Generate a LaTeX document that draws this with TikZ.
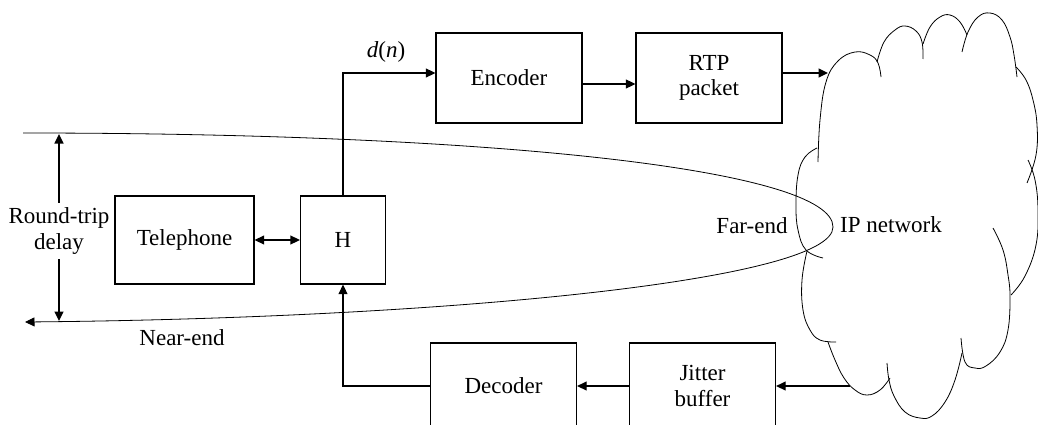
\documentclass[tikz,border=0pt]{standalone}
\usepackage{fontspec}
\setmainfont{Liberation Serif}
\usetikzlibrary{arrows.meta}
\begin{document}
\begin{tikzpicture}[x=1pt,y=-1pt,
  font=\fontsize{23}{25.5}\selectfont,
  box/.style={draw, line width=1.3pt, minimum width=146pt, minimum height=88pt, align=center, inner sep=0pt},
  conn/.style={line width=1.3pt},
  tipa/.tip={Triangle[length=9.5pt,width=9pt]},
  arr/.style={conn,-tipa},
  thinline/.style={line width=0.8pt},
  cloudarc/.style={line width=0.8pt}]
\useasboundingbox (0,0) rectangle (1038,425);

% boxes
\node[box, minimum width=139pt] (tel) at (184.5,240) {Telephone};
\node[box, minimum width=85pt] (H) at (343,240) {H};
\node[box, minimum height=90pt] (enc) at (509,78) {Encoder};
\node[box, minimum height=90pt] (rtp) at (709,78) {RTP\\packet};
\node[box, minimum height=86pt] (dec) at (503.5,386) {Decoder};
\node[box, minimum height=86pt] (jit) at (702.5,386) {Jitter\\buffer};

% labels
\node (dn) at (386,52) {\itshape d\/\upshape(\itshape n\/\upshape)};
\node (far) at (752,226) {Far-end};
\node (ip) at (891,225) {IP network};
\node (near) at (182,338) {Near-end};
\node[align=center, inner sep=5pt] (rtd) at (59,231) {Round-trip\\delay};

% coordinates
\coordinate (rtdtop) at (59,134);
\coordinate (rtdbot) at (59,321);
\coordinate (cin) at (828,73);
\coordinate (cout) at (850,386);
\coordinate (nearstart) at (23,133);
\coordinate (tip) at (833,227);
\coordinate (nearend) at (25,322);

% connectors
\draw[arr] (H.north) |- ([yshift=5pt]enc.west);
\draw[arr] ([yshift=-6pt]enc.east) -- ([yshift=-6pt]rtp.west);
\draw[arr] ([yshift=5pt]rtp.east) -- (cin);
\draw[arr] (cout) -- (jit.east);
\draw[arr] (jit.west) -- (dec.east);
\draw[arr] (dec.west) -| (H.south);
\draw[conn, tipa-tipa] (tel.east) -- (H.west);
\draw[arr] (rtd.north) -- (rtdtop);
\draw[arr] (rtd.south) -- (rtdbot);

% round-trip curve
\draw[thinline, -tipa] (nearstart) .. controls (500,133) and (833,170) .. (tip)
  .. controls (833,280) and (450,318) .. (nearend);

% cloud
\draw[cloudarc] plot[smooth, tension=0.7] coordinates {(818,162) (820,120) (826,82) (838,61) (855,52) (870,55) (878,63) (881,77)};
\draw[cloudarc] plot[smooth, tension=0.7] coordinates {(877,62) (884,42) (895,30) (905,26) (916,31) (922,42) (923,59)};
\draw[cloudarc] plot[smooth, tension=0.7] coordinates {(923,44) (930,27) (940,17) (950,15) (960,22) (967,35)};
\draw[cloudarc] plot[smooth, tension=0.7] coordinates {(962,52) (968,32) (978,17) (990,13) (1002,20) (1010,37) (1014,55) (1017,77)};
\draw[cloudarc] plot[smooth, tension=0.7] coordinates {(1016,67) (1026,80) (1033,100) (1037,125) (1036,155) (1027,183)};
\draw[cloudarc] plot[smooth, tension=0.7] coordinates {(1028,160) (1035,180) (1038,210) (1036,245) (1025,276) (1011,295)};
\draw[cloudarc] plot[smooth, tension=0.7] coordinates {(993,228) (1003,250) (1008,275) (1010,297) (1008,330) (1000,352) (986,366) (975,368) (965,362) (961,338)};
\draw[cloudarc] plot[smooth, tension=0.7] coordinates {(962,353) (955,380) (945,402) (932,416) (920,418) (905,412) (894,396) (889,380) (887,363)};
\draw[cloudarc] plot[smooth, tension=0.7] coordinates {(890,378) (880,390) (867,395) (855,390) (844,378) (835,360) (828,342)};
\draw[cloudarc] plot[smooth, tension=0.7] coordinates {(807,251) (802,280) (803,310) (810,330) (820,340) (836,342)};
\draw[cloudarc] plot[smooth, tension=0.7] coordinates {(817,148) (805,157) (798,175) (796,205) (798,230) (806,250) (823,258)};
\end{tikzpicture}
\end{document}
